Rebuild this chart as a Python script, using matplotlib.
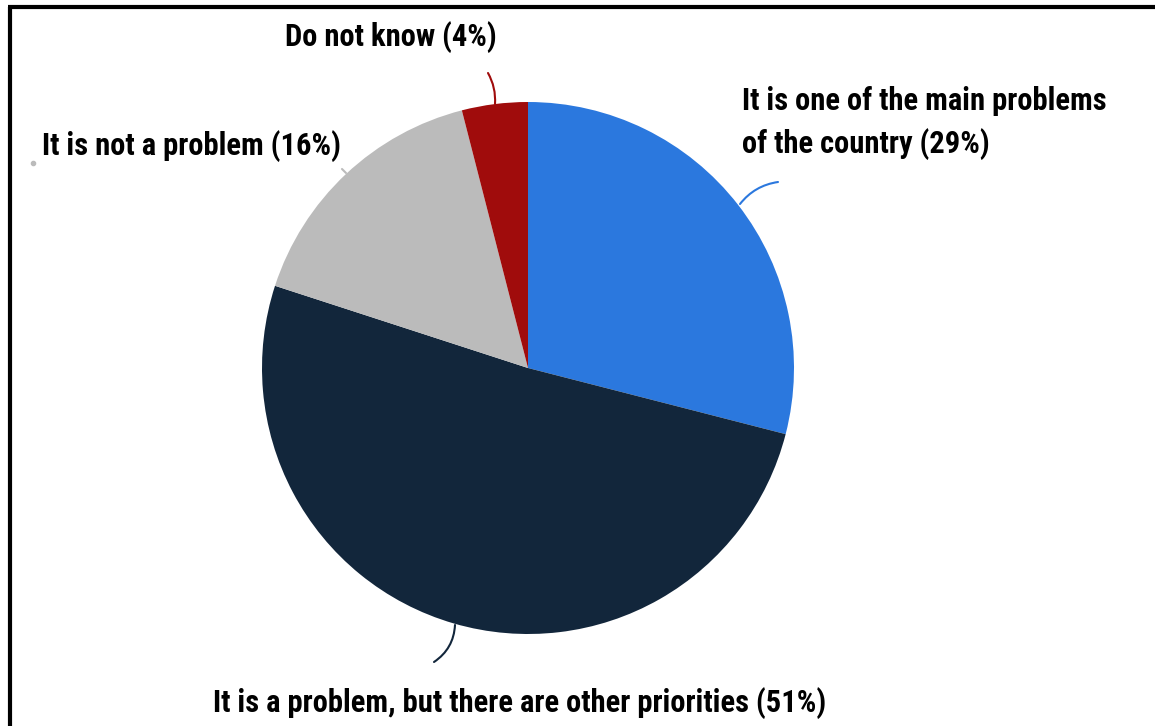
import matplotlib
matplotlib.use("Agg")
import matplotlib.pyplot as plt
from matplotlib import font_manager as fm

# données du graphique
categories = [
    "It is one of the main problems\nof the country (29%)",
    "It is a problem, but there are other priorities (51%)",
    "It is not a problem (16%)",
    "Do not know (4%)",
]
valeurs = [29, 51, 16, 4]
couleurs = ["#2B78DE", "#12263B", "#BBBBBB", "#A00C0C"]

# police étroite si disponible
noms = {f.name for f in fm.fontManager.ttflist}
police = "DejaVu Sans"
for nom in ["Liberation Sans Narrow", "DejaVu Sans Condensed", "Roboto Condensed", "Open Sans Condensed"]:
    if nom in noms:
        police = nom
        break
plt.rcParams["font.family"] = [police, "DejaVu Sans"]

W, H = 1155, 726
fig = plt.figure(figsize=(W / 100, H / 100), dpi=100)
ax = fig.add_axes([0, 0, 1, 1])

cx, cy, r = 528, H - 368, 266
ax.pie(valeurs, colors=couleurs, startangle=90, counterclock=False,
       center=(cx, cy), radius=r, frame=True,
       wedgeprops=dict(linewidth=0))
ax.set_xlim(0, W)
ax.set_ylim(0, H)
ax.set_aspect("equal")
ax.axis("off")

# cadre (gauche et haut)
ax.plot([9.5, 9.5], [0, H - 7], color="black", lw=3, solid_capstyle="butt")
ax.plot([8, W], [H - 7, H - 7], color="black", lw=3, solid_capstyle="butt")

# lignes de rappel
def rappel(p1, p2, couleur, rad):
    ax.annotate("", xy=(p2[0], H - p2[1]), xytext=(p1[0], H - p1[1]),
                arrowprops=dict(arrowstyle="-", color=couleur, lw=1.5,
                                connectionstyle=f"arc3,rad={rad}",
                                shrinkA=0, shrinkB=0))

rappel((740, 204), (778, 182), couleurs[0], -0.2)
rappel((455, 625), (434, 662), couleurs[1], -0.25)
rappel((346, 173), (342, 169), couleurs[2], 0)
rappel((495, 104), (488, 73), couleurs[3], 0.15)
ax.plot([33], [H - 163], "o", color="#BBBBBB", ms=3)

# étiquettes
style = dict(fontsize=22, fontweight="bold", color="black")
ax.text(742, H - 123, categories[0], ha="left", va="center", linespacing=1.5, **style)
ax.text(520, H - 703, categories[1], ha="center", va="center", **style)
ax.text(42, H - 146, categories[2], ha="left", va="center", **style)
ax.text(391, H - 37, categories[3], ha="center", va="center", **style)

fig.savefig("out.png", dpi=100)
